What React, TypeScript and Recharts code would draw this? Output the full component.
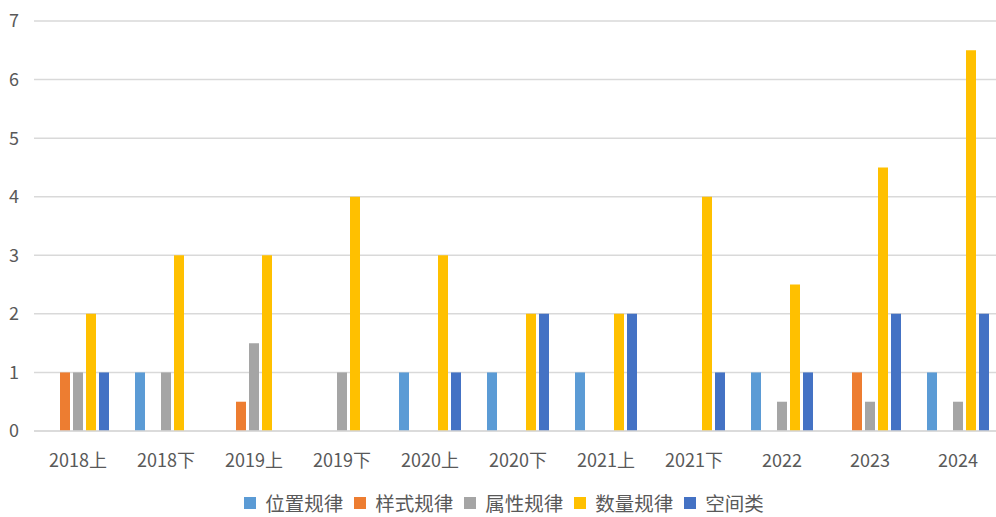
import { Bar, BarChart, CartesianGrid, Legend, XAxis, YAxis } from "recharts";

const periods = [
  "2018上",
  "2018下",
  "2019上",
  "2019下",
  "2020上",
  "2020下",
  "2021上",
  "2021下",
  "2022",
  "2023",
  "2024",
];

const positionRule = [0, 1, 0, 0, 1, 1, 1, 0, 1, 0, 1];
const styleRule = [1, 0, 0.5, 0, 0, 0, 0, 0, 0, 1, 0];
const attributeRule = [1, 1, 1.5, 1, 0, 0, 0, 0, 0.5, 0.5, 0.5];
const quantityRule = [2, 3, 3, 4, 3, 2, 2, 4, 2.5, 4.5, 6.5];
const spatial = [1, 0, 0, 0, 1, 2, 2, 1, 1, 2, 2];

const yTicks = [0, 1, 2, 3, 4, 5, 6, 7];

const SERIES = [
  { key: "positionRule", name: "位置规律", color: "#5B9BD5" },
  { key: "styleRule", name: "样式规律", color: "#ED7D31" },
  { key: "attributeRule", name: "属性规律", color: "#A5A5A5" },
  { key: "quantityRule", name: "数量规律", color: "#FFC000" },
  { key: "spatial", name: "空间类", color: "#4472C4" },
];

const data = periods.map((p, i) => ({
  period: p,
  positionRule: positionRule[i],
  styleRule: styleRule[i],
  attributeRule: attributeRule[i],
  quantityRule: quantityRule[i],
  spatial: spatial[i],
}));

const FONT = '"Noto Sans CJK SC", "Noto Sans", sans-serif';

// legend in series order, not name order
const renderLegend = (props: any) => {
  const payload = [...(props.payload || [])].sort(
    (a: any, b: any) =>
      SERIES.findIndex((s) => s.name === a.value) -
      SERIES.findIndex((s) => s.name === b.value)
  );
  return (
    <div
      style={{
        display: "flex",
        justifyContent: "center",
        alignItems: "center",
        height: 28,
        lineHeight: "28px",
        fontSize: 19.5,
        color: "#595959",
        fontFamily: FONT,
        paddingLeft: 6,
      }}
    >
      {payload.map((entry: any, i: number) => (
        <div
          key={entry.value}
          style={{ display: "flex", alignItems: "center", marginLeft: i === 0 ? 0 : 11 }}
        >
          <span
            style={{
              display: "inline-block",
              width: 12,
              height: 12,
              background: entry.color,
              marginRight: 9,
            }}
          />
          <span>{entry.value}</span>
        </div>
      ))}
    </div>
  );
};

export default function App() {
  return (
    <div
      style={{
        position: "absolute",
        left: 0,
        top: 0,
        width: 996,
        height: 517,
        overflow: "hidden",
        background: "#fff",
        fontFamily: FONT,
      }}
    >
      <BarChart
        width={1010}
        height={517}
        data={data}
        margin={{ top: 21, right: 8, bottom: 0, left: 0 }}
        barCategoryGap={13}
        barGap={3}
      >
        <CartesianGrid vertical={false} stroke="#D9D9D9" strokeWidth={1.5} />
        <XAxis
          dataKey="period"
          height={58}
          tickLine={false}
          axisLine={{ stroke: "#D9D9D9", strokeWidth: 1.5 }}
          tick={{ fill: "#595959", fontSize: 18, fontFamily: FONT }}
          tickMargin={17}
          interval={0}
        />
        <YAxis
          width={34}
          domain={[0, 7]}
          ticks={yTicks}
          tickLine={false}
          axisLine={false}
          tick={{ fill: "#595959", fontSize: 18, fontFamily: FONT }}
          tickMargin={9}
        />
        <Legend verticalAlign="bottom" align="center" content={renderLegend} />
        {SERIES.map((s) => (
          <Bar
            key={s.key}
            dataKey={s.key}
            name={s.name}
            fill={s.color}
            isAnimationActive={false}
          />
        ))}
      </BarChart>
    </div>
  );
}
